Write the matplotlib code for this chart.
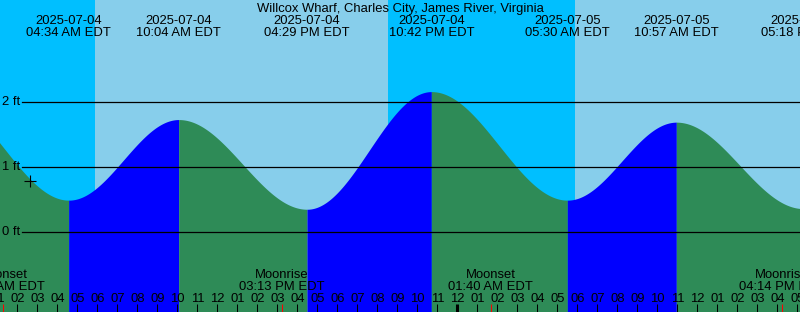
import datetime as dt
import numpy as np
import matplotlib
matplotlib.use("Agg")
import matplotlib.pyplot as plt

plt.rcParams['font.family'] = ['Liberation Sans', 'DejaVu Sans']

title = "Willcox Wharf, Charles City, James River, Virginia"
base = dt.datetime(2025, 7, 4)

# Tide extremes (time, height in ft)
tide_times = ["2025-07-03 22:04", "2025-07-04 04:34", "2025-07-04 10:04",
              "2025-07-04 16:29", "2025-07-04 22:42", "2025-07-05 05:30",
              "2025-07-05 10:57", "2025-07-05 17:18"]
tide_heights = [2.10, 0.49, 1.73, 0.35, 2.16, 0.49, 1.69, 0.36]

# Sun events
sunrise_times = ["2025-07-04 05:53", "2025-07-05 05:53"]
sunset_times = ["2025-07-04 20:33", "2025-07-05 20:33"]

# Moon events
moon_names = ["Moonset", "Moonrise", "Moonset", "Moonrise"]
moon_times = ["2025-07-04 01:16", "2025-07-04 15:13", "2025-07-05 01:40", "2025-07-05 16:14"]

now_time = "2025-07-04 02:38"

y_levels = [0, 1, 2]
y_labels = ["0 ft", "1 ft", "2 ft"]

DAY = "#87CEEB"
NIGHT = "#00BFFF"
FLOOD = "#0000FF"
EBB = "#2E8B57"

W, H = 800, 312
FS = 9.4


def parse(s):
    return dt.datetime.strptime(s, "%Y-%m-%d %H:%M")


def hrs(d):
    return (d - base).total_seconds() / 3600.0


# pixel mapping (x: 20 px per hour, midnight Jul 4 at -22.67 px; y: 65 px per ft, 0 ft at 232 px)
PX_PER_H = 20.0
X0 = -22.67
def t_of_px(px):
    return (px - X0) / PX_PER_H
def ft_of_px(py):
    return (232.0 - py) / 65.0
def yfrac(py):
    return 1.0 - py / H

fig = plt.figure(figsize=(W / 100, H / 100), dpi=100)
ax = fig.add_axes([0, 0, 1, 1])
ax.set_xlim(t_of_px(0), t_of_px(W))
ax.set_ylim(ft_of_px(H), ft_of_px(0))
ax.axis('off')
xt = ax.get_xaxis_transform()

# day / night background
ax.axvspan(t_of_px(-100), t_of_px(W + 100), color=NIGHT, lw=0, zorder=0)
for sr, ss in zip(sunrise_times, sunset_times):
    ax.axvspan(hrs(parse(sr)), hrs(parse(ss)), color=DAY, lw=0, zorder=0.5)

# tide curve between extremes
tt = [hrs(parse(s)) for s in tide_times]
def tide_at(t):
    for i in range(len(tt) - 1):
        if tt[i] <= t <= tt[i + 1]:
            f = (t - tt[i]) / (tt[i + 1] - tt[i])
            return tide_heights[i] + (tide_heights[i + 1] - tide_heights[i]) * (1 - np.cos(np.pi * f)) / 2
    return np.nan

ybot = ft_of_px(H + 5)
for i in range(len(tt) - 1):
    t = np.linspace(tt[i], tt[i + 1], 300)
    f = (t - tt[i]) / (tt[i + 1] - tt[i])
    h = tide_heights[i] + (tide_heights[i + 1] - tide_heights[i]) * (1 - np.cos(np.pi * f)) / 2
    col = FLOOD if tide_heights[i + 1] > tide_heights[i] else EBB
    ax.fill_between(t, ybot, h, color=col, lw=0, zorder=1)

# horizontal level lines + labels
for lv, lb in zip(y_levels, y_labels):
    ax.axhline(lv, xmin=22 / W, xmax=1, color='black', lw=0.9, zorder=2)
    ax.annotate(lb, xy=(0, lv), xycoords=('axes fraction', 'data'), xytext=(2, 0),
                textcoords='offset pixels', fontsize=FS, va='center', ha='left', zorder=3)

# title
ax.text(0.5, yfrac(12), title, transform=ax.transAxes, ha='center', va='baseline', fontsize=FS)

xmin_t, xmax_t = t_of_px(-40), t_of_px(W + 40)

# extreme labels
for s in tide_times:
    d = parse(s)
    x = hrs(d)
    if not (xmin_t <= x <= xmax_t):
        continue
    ax.text(x, yfrac(24), d.strftime("%Y-%m-%d"), transform=xt, ha='center', va='baseline', fontsize=FS)
    ax.text(x, yfrac(36), d.strftime("%I:%M %p EDT"), transform=xt, ha='center', va='baseline', fontsize=FS)

# moon labels
for nm, s in zip(moon_names, moon_times):
    d = parse(s)
    x = hrs(d)
    ax.text(x, yfrac(278.5), nm, transform=xt, ha='center', va='baseline', fontsize=FS)
    ax.text(x, yfrac(290), d.strftime("%I:%M %p EDT"), transform=xt, ha='center', va='baseline', fontsize=FS)

# hour ticks
for hh in range(1, 42):
    lab = "%02d" % (((hh - 1) % 12) + 1)
    ax.text(hh, yfrac(301.5), lab, transform=xt, ha='center', va='baseline', fontsize=FS)
    lw = 2.2 if hh % 24 == 0 else 0.75
    ax.plot([hh, hh], [yfrac(304), yfrac(313)], transform=xt, color='black', lw=lw,
            solid_capstyle='butt', zorder=3)
for s in moon_times:
    x = hrs(parse(s))
    ax.plot([x, x], [yfrac(304), yfrac(313)], transform=xt, color='red', lw=0.75,
            solid_capstyle='butt', zorder=4)

# current time marker
tn = hrs(parse(now_time))
ax.plot([tn], [tide_at(tn) - 0.03], marker='+', ms=9, mew=0.8, color='black', zorder=5)

fig.savefig("out.png", dpi=100)
